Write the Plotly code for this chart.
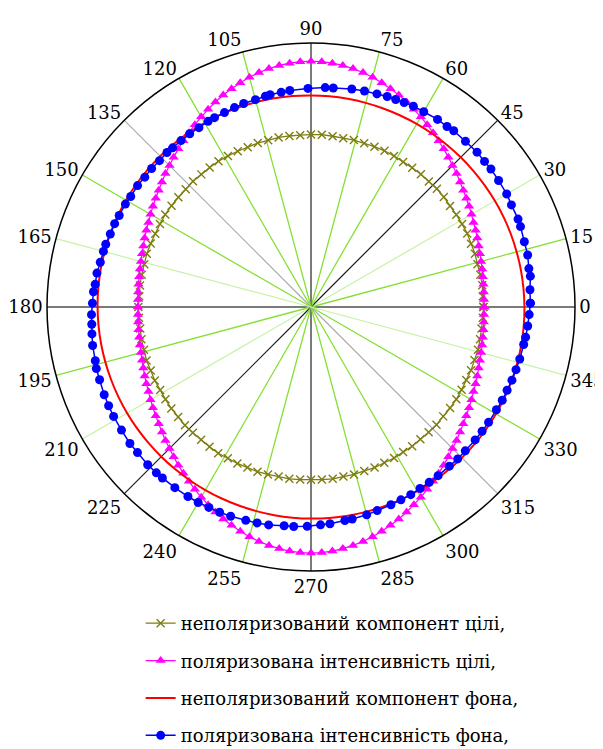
import plotly.graph_objects as go

# ---------------- data ----------------
tick_angles = [0, 15, 30, 45, 60, 75, 90, 105, 120, 135, 150, 165,
               180, 195, 210, 225, 240, 255, 270, 285, 300, 315, 330, 345]
tick_labels = [str(a) for a in tick_angles]

# unpolarized target component (olive, crosses) every 3.6 deg
olive_theta = [i * 3.6 for i in range(100)]
olive_r = [65.3, 65.2, 65.4, 65.3, 65.1, 65.3, 65.2, 65.4, 65.3, 65.2,
           65.1, 65.3, 65.4, 65.2, 65.3, 65.2, 65.1, 65.3, 65.4, 65.3,
           65.2, 65.3, 65.1, 65.2, 65.4, 65.3, 65.2, 65.3, 65.4, 65.2,
           65.3, 65.1, 65.2, 65.3, 65.4, 65.3, 65.2, 65.3, 65.1, 65.2,
           65.3, 65.4, 65.3, 65.2, 65.3, 65.4, 65.2, 65.3, 65.3, 65.2,
           65.4, 65.3, 65.2, 65.4, 65.3, 65.5, 65.3, 65.4, 65.2, 65.3,
           65.4, 65.3, 65.5, 65.4, 65.3, 65.4, 65.6, 65.4, 65.5, 65.4,
           65.6, 65.5, 65.4, 65.6, 65.5, 65.4, 65.5, 65.6, 65.4, 65.5,
           65.3, 65.4, 65.2, 65.3, 65.1, 65.2, 65.0, 65.1, 65.2, 65.0,
           65.1, 65.2, 65.1, 65.0, 65.2, 65.1, 65.3, 65.2, 65.1, 65.2]

# polarized target intensity (magenta, triangles) every 2.5 deg
magenta_theta = [i * 2.5 for i in range(144)]
magenta_r = [65.6, 65.6, 65.7, 65.9, 66.1, 66.4, 66.7, 67.1, 67.6, 68.2,
             68.8, 69.4, 70.2, 71.0, 71.8, 72.7, 73.7, 74.8, 75.8, 77.0,
             78.2, 79.4, 80.6, 81.9, 83.2, 84.4, 85.7, 86.9, 88.0, 89.1,
             90.1, 91.0, 91.7, 92.3, 92.7, 93.0,
             93.1, 93.0, 92.7, 92.3, 91.7, 91.0, 90.1, 89.1, 88.0, 86.9,
             85.7, 84.4, 83.2, 81.9, 80.6, 79.4, 78.2, 77.0, 75.8, 74.8,
             73.7, 72.7, 71.8, 71.0, 70.2, 69.4, 68.8, 68.2, 67.6, 67.1,
             66.7, 66.4, 66.1, 65.9, 65.7, 65.6,
             65.6, 65.6, 65.7, 65.9, 66.1, 66.4, 66.7, 67.1, 67.6, 68.2,
             68.8, 69.4, 70.2, 71.0, 71.8, 72.7, 73.7, 74.8, 75.8, 77.0,
             78.2, 79.4, 80.6, 81.9, 83.2, 84.4, 85.7, 86.9, 88.0, 89.1,
             90.1, 91.0, 91.7, 92.3, 92.8, 93.1,
             93.2, 93.1, 92.8, 92.3, 91.7, 91.0, 90.1, 89.1, 88.0, 86.9,
             85.7, 84.4, 83.2, 81.9, 80.6, 79.4, 78.2, 77.0, 75.8, 74.8,
             73.7, 72.7, 71.8, 71.0, 70.2, 69.4, 68.8, 68.2, 67.6, 67.1,
             66.7, 66.4, 66.1, 65.9, 65.7, 65.6]

# unpolarized background component (red line) every 5 deg
red_theta = [i * 5 for i in range(73)]
red_r = [80.85, 80.79, 80.73, 80.65, 80.58, 80.50, 80.42, 80.34, 80.27, 80.20,
         80.14, 80.10, 80.07, 80.05, 80.04, 80.05, 80.07, 80.10, 80.15, 80.21,
         80.27, 80.35, 80.42, 80.51, 80.59, 80.66, 80.74, 80.80, 80.86, 80.90,
         80.94, 80.96, 80.96, 80.95, 80.93, 80.90,
         80.85, 80.79, 80.73, 80.65, 80.58, 80.50, 80.42, 80.34, 80.27, 80.20,
         80.14, 80.10, 80.07, 80.05, 80.04, 80.05, 80.07, 80.10, 80.15, 80.21,
         80.27, 80.35, 80.42, 80.51, 80.59, 80.66, 80.74, 80.80, 80.86, 80.90,
         80.94, 80.96, 80.96, 80.95, 80.93, 80.90, 80.85]

# polarized background intensity (blue, circles)
blue_theta = [1, 4.5, 8, 10, 13.5, 17, 21, 23, 27, 30, 34, 37.5, 40, 43, 47,
              51, 53, 56, 60, 63, 65.5, 67.8, 70.1, 72.8, 76.1, 79.4, 84.2,
              86.3, 90.8, 95.6, 97.9, 100.9, 102.2, 105, 108.3, 111, 114,
              117, 119, 122, 125, 128, 131, 133, 136, 139, 142, 145, 148.5,
              151, 154.5, 157, 160, 163, 165, 168, 171, 174, 176, 179, 182,
              184.5, 187, 190, 194, 196, 199, 203, 206, 209, 213, 217, 220,
              224, 227, 229, 233, 237, 240, 243, 246, 249, 253, 256, 259,
              263, 265.5, 269, 272.5, 275, 279, 281, 285, 288, 292, 295, 298,
              301, 304, 307, 311, 314, 317, 321, 324, 327, 331, 334, 337,
              340, 343, 346, 350, 352, 355, 358, 361]
blue_r = [83.1, 83.2, 83.9, 83.8, 84.4, 84.5, 85.0, 85.2, 85.2, 85.6, 85.7,
          85.9, 85.8, 86.0, 85.8, 85.9, 85.6, 85.7, 85.4, 85.4, 85.1, 84.9,
          84.8, 84.5, 84.3, 84.0, 83.4, 83.3, 82.8, 82.4, 82.1, 81.9, 81.7,
          81.3, 81.2, 80.9, 80.6, 80.5, 80.4, 80.1, 80.1, 80.0, 79.9, 80.0,
          79.8, 80.0, 79.9, 80.2, 80.1, 80.4, 80.5, 80.8, 80.9, 81.3, 81.4,
          81.6, 82.1, 82.2, 82.6, 82.8, 83.2, 83.3, 83.6, 84.0, 84.2, 84.6,
          84.7, 85.1, 85.3, 85.5, 85.6, 85.9, 85.8, 86.0, 85.9, 85.8, 85.7,
          85.6, 85.5, 85.2, 85.1, 84.9, 84.5, 84.3, 84.1, 83.5, 83.4, 83.1,
          82.6, 82.4, 81.9, 81.8, 81.5, 81.1, 80.8, 80.6, 80.5, 80.2, 80.1,
          80.0, 79.9, 80.0, 79.9, 80.0, 80.1, 80.2, 80.3, 80.6, 80.7, 81.0,
          81.2, 81.5, 81.8, 82.1, 82.4, 82.7, 83.1]

legend_names = ["неполяризований компонент цілі,",
                "поляризована інтенсивність цілі,",
                "неполяризований компонент фона,",
                "поляризована інтенсивність фона,"]

# diameters of the angular grid (each drawn through the centre)
spoke_angles = [0, 15, 30, 45, 60, 75, 90, 105, 120, 135, 150, 165]
R_MAX = 100

# ---------------- styles ----------------
GREEN = "#86e034"
LIGHT = "#c6f3a4"
spoke_style = {0: ("#7a7a7a", 2), 15: (GREEN, 1.3), 30: (LIGHT, 1.2),
               45: ("#1a1a1a", 1.2), 60: (GREEN, 1.3), 75: (GREEN, 1.3),
               90: ("#7a7a7a", 2), 105: (GREEN, 1.3), 120: (GREEN, 1.3),
               135: ("#a8a8a8", 1.1), 150: (GREEN, 1.3), 165: (LIGHT, 1.2)}

SERIF = "DejaVu Serif"

fig = go.Figure()

for a in spoke_angles:
    col, w = spoke_style[a]
    fig.add_trace(go.Scatterpolar(
        r=[R_MAX, 0, R_MAX], theta=[a, a, a + 180], mode="lines",
        line=dict(color=col, width=w), showlegend=False, hoverinfo="skip"))

fig.add_trace(go.Scatterpolar(
    r=olive_r + olive_r[:1], theta=olive_theta + [360], mode="lines+markers",
    name=legend_names[0], legendgroup="a",
    line=dict(color="#7d7d10", width=1.3),
    marker=dict(symbol="x-thin", size=8, line=dict(color="#7d7d10", width=1.4))))

fig.add_trace(go.Scatterpolar(
    r=magenta_r + magenta_r[:1], theta=magenta_theta + [360], mode="lines+markers",
    name=legend_names[1], legendgroup="b",
    line=dict(color="#ff00ff", width=1.2),
    marker=dict(symbol="triangle-up", size=9, color="#ff00ff")))

fig.add_trace(go.Scatterpolar(
    r=red_r, theta=red_theta, mode="lines", line_shape="spline",
    name=legend_names[2], legendgroup="c",
    line=dict(color="#ff0000", width=2)))

fig.add_trace(go.Scatterpolar(
    r=blue_r, theta=blue_theta, mode="lines+markers",
    name=legend_names[3], legendgroup="d",
    line=dict(color="#0000ff", width=1.5),
    marker=dict(symbol="circle", size=9, color="#0000ff")))

fig.update_layout(
    width=603, height=749,
    margin=dict(l=0, r=0, t=0, b=0),
    paper_bgcolor="white",
    font=dict(family=SERIF),
    polar=dict(
        domain=dict(x=[0.0647, 0.9403], y=[0.2483, 0.9533]),
        bgcolor="white",
        radialaxis=dict(range=[0, R_MAX], visible=False, showgrid=False),
        angularaxis=dict(
            rotation=0, direction="counterclockwise",
            tickmode="array", tickvals=tick_angles, ticktext=tick_labels,
            showgrid=False, showline=True, linecolor="black", linewidth=1.5,
            ticks="",
            tickfont=dict(family=SERIF, size=18, color="black")),
    ),
    legend=dict(
        x=0.22, y=0.203, xanchor="left", yanchor="top",
        font=dict(family=SERIF, size=18, color="black"),
        tracegroupgap=11, itemwidth=30, bgcolor="rgba(0,0,0,0)"),
)

fig.write_html("out.html")
